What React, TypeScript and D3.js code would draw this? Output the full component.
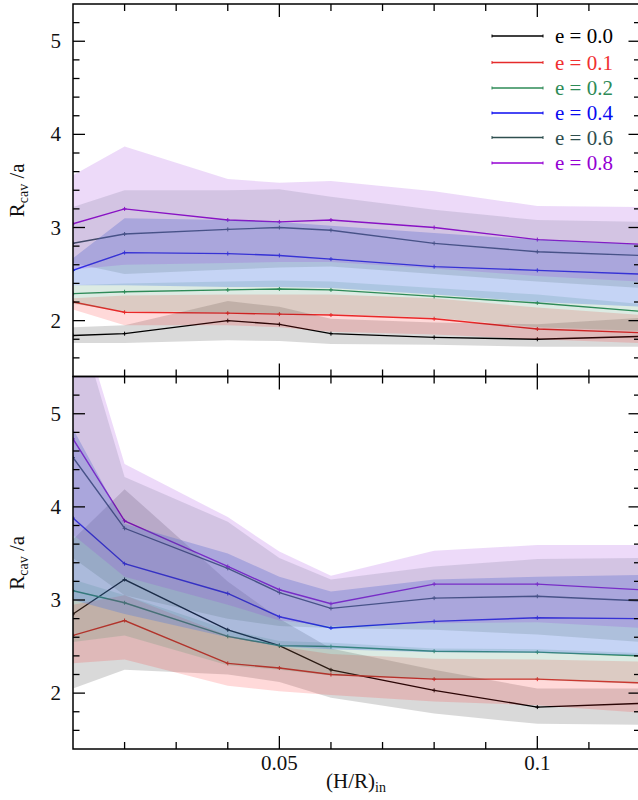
import React from "react";
import * as d3 from "d3";

// ---------- DATA ----------
const hr = [0.01, 0.02, 0.04, 0.05, 0.06, 0.08, 0.1, 0.12];
const eccLabels = ["e = 0.0", "e = 0.1", "e = 0.2", "e = 0.4", "e = 0.6", "e = 0.8"];
const lineColors = ["#000000", "#e52b2b", "#2e8b57", "#0a0af0", "#2f4f4f", "#9400d3"];
const textColors = ["#000000", "#f03030", "#2e8b57", "#0a0af0", "#2f4f4f", "#9400d3"];
const bandColors = ["#000000", "#ff2020", "#2e8b57", "#4a78e0", "#2f4f4f", "#9933dd"];
const bandOpacity = [0.15, 0.17, 0.17, 0.32, 0.15, 0.18];

// top panel
const topMean = [
  [1.84, 1.86, 2.0, 1.96, 1.86, 1.82, 1.8, 1.83],
  [2.2, 2.09, 2.08, 2.07, 2.06, 2.02, 1.91, 1.87],
  [2.29, 2.31, 2.33, 2.34, 2.33, 2.26, 2.19, 2.1],
  [2.54, 2.73, 2.72, 2.7, 2.66, 2.58, 2.54, 2.5],
  [2.83, 2.93, 2.98, 3.0, 2.97, 2.83, 2.74, 2.7],
  [3.04, 3.2, 3.08, 3.06, 3.08, 3.0, 2.87, 2.82],
];
const topLo = [
  [1.76, 1.76, 1.79, 1.78, 1.75, 1.74, 1.72, 1.72],
  [2.12, 1.95, 1.95, 1.93, 1.88, 1.85, 1.8, 1.76],
  [2.18, 2.1, 2.09, 2.08, 2.07, 2.03, 1.93, 1.89],
  [2.38, 2.38, 2.36, 2.36, 2.35, 2.28, 2.2, 2.15],
  [2.62, 2.5, 2.55, 2.57, 2.58, 2.5, 2.42, 2.35],
  [2.55, 2.6, 2.62, 2.63, 2.63, 2.56, 2.48, 2.42],
];
const topHi = [
  [1.93, 1.95, 2.21, 2.15, 2.02, 1.98, 1.96, 2.03],
  [2.24, 2.27, 2.28, 2.28, 2.28, 2.24, 2.14, 2.06],
  [2.38, 2.4, 2.42, 2.43, 2.42, 2.35, 2.28, 2.18],
  [2.67, 3.1, 3.08, 3.06, 3.02, 2.94, 2.87, 2.82],
  [3.22, 3.4, 3.4, 3.41, 3.33, 3.19, 3.08, 3.06],
  [3.56, 3.87, 3.52, 3.48, 3.5, 3.39, 3.23, 3.22],
];

// bottom panel
const botMean = [
  [2.85, 3.22, 2.68, 2.51, 2.25, 2.03, 1.85, 1.89],
  [2.62, 2.78, 2.32, 2.27, 2.2, 2.15, 2.15, 2.11],
  [3.1, 2.97, 2.61, 2.51, 2.5, 2.45, 2.44, 2.4],
  [3.88, 3.39, 3.07, 2.82, 2.7, 2.77, 2.81, 2.8],
  [4.53, 3.77, 3.34, 3.08, 2.91, 3.02, 3.04, 2.99],
  [4.73, 3.85, 3.36, 3.11, 2.96, 3.17, 3.17, 3.11],
];
const botLo = [
  [2.05, 2.25, 2.2, 2.12, 1.95, 1.78, 1.67, 1.66],
  [2.32, 2.36, 2.08, 2.02, 1.98, 1.91, 1.87, 1.79],
  [2.55, 2.62, 2.3, 2.25, 2.19, 2.15, 2.14, 2.1],
  [3.0, 2.85, 2.6, 2.5, 2.47, 2.44, 2.43, 2.4],
  [3.45, 3.05, 2.8, 2.72, 2.7, 2.68, 2.63, 2.55],
  [3.7, 3.25, 2.95, 2.78, 2.72, 2.75, 2.76, 2.7],
];
const botHi = [
  [3.65, 4.19, 3.2, 2.8, 2.48, 2.25, 2.05, 2.05],
  [2.95, 3.05, 2.62, 2.5, 2.42, 2.37, 2.36, 2.34],
  [3.22, 3.05, 2.68, 2.56, 2.54, 2.48, 2.47, 2.43],
  [4.84, 3.82, 3.5, 3.25, 3.09, 3.22, 3.25, 3.27],
  [6.2, 4.32, 3.84, 3.45, 3.22, 3.36, 3.44, 3.45],
  [6.3, 4.46, 3.89, 3.52, 3.26, 3.53, 3.59, 3.59],
];

const yTickLabels = [2, 3, 4, 5];
const xTickLabels = [0.05, 0.1];

// ---------- LAYOUT ----------
const W = 638;
const H = 800;
const X0 = 73;
const X1 = 640.5;
const FONT = "Liberation Serif";

const x = d3.scaleLinear().domain([0.01, 0.12]).range([X0, X1]);

function Panel({ id, y, mean, lo, hi, showXLabels }: any) {
  const [yb, yt] = y.range();
  const line = d3
    .line<number>()
    .x((_, i) => x(hr[i]))
    .y((d) => y(d));
  const area = (l: number[], h: number[]) =>
    d3
      .area<number>()
      .x((_, i) => x(hr[i]))
      .y0((_, i) => y(l[i]))
      .y1((_, i) => y(h[i]))(hr as any) as string;

  const yMinor = d3.range(14, 55, 2).map((v) => v / 10);
  const xMinor = d3.range(2, 12).map((v) => v / 100);
  return (
    <g>
      <defs>
        <clipPath id={id}>
          <rect x={X0} y={yt} width={X1 - X0} height={yb - yt} />
        </clipPath>
      </defs>
      <g clipPath={`url(#${id})`}>
        {mean.map((m: number[], k: number) => (
          <g key={"l" + k}>
            <path d={line(m) as string} fill="none" stroke={lineColors[k]} strokeWidth={1.4} />
            {m.map((v, i) => (
              <path
                key={i}
                d={`M${x(hr[i]) - 2},${y(v)}H${x(hr[i]) + 2}M${x(hr[i])},${y(v) - 2}V${y(v) + 2}`}
                stroke={lineColors[k]}
                strokeWidth={1}
              />
            ))}
          </g>
        ))}
        {mean.map((_: any, k: number) => (
          <path key={"b" + k} d={area(lo[k], hi[k])} fill={bandColors[k]} fillOpacity={bandOpacity[k]} stroke="none" />
        ))}
      </g>
      {yMinor.map((v) => {
        const major = Math.abs(v - Math.round(v)) < 1e-6;
        const len = major ? 12 : 6.5;
        const yy = y(v);
        if (yy < yt + 0.5 || yy > yb - 0.5) return null;
        return (
          <g key={"yt" + v}>
            <line x1={X0} x2={X0 + len} y1={yy} y2={yy} stroke="#000" strokeWidth={1.3} />
            <line x1={X1} x2={X1 - len} y1={yy} y2={yy} stroke="#000" strokeWidth={1.3} />
          </g>
        );
      })}
      {xMinor.map((v) => {
        const major = Math.abs(v - 0.05) < 1e-6 || Math.abs(v - 0.1) < 1e-6;
        const len = major ? 13 : 7;
        const xx = x(v);
        return (
          <g key={"xt" + v}>
            <line x1={xx} x2={xx} y1={yb} y2={yb - len} stroke="#000" strokeWidth={1.3} />
            <line x1={xx} x2={xx} y1={yt} y2={yt + len} stroke="#000" strokeWidth={1.3} />
          </g>
        );
      })}
      <rect x={X0} y={yt} width={X1 - X0} height={yb - yt} fill="none" stroke="#000" strokeWidth={1.5} />
      {yTickLabels.map((v) => (
        <text key={"yl" + v} x={61} y={y(v) + 7} textAnchor="end" fontSize={21} fontFamily={FONT} fill="#111">
          {v}
        </text>
      ))}
      {showXLabels &&
        xTickLabels.map((v) => (
          <text key={"xl" + v} x={x(v)} y={770} textAnchor="middle" fontSize={21} fontFamily={FONT} fill="#111">
            {String(v)}
          </text>
        ))}
      <text
        transform={`translate(24,${(yt + yb) / 2}) rotate(-90)`}
        textAnchor="middle"
        fontSize={21}
        fontFamily={FONT}
        fill="#111"
      >
        R<tspan fontSize={14} dy={4}>cav</tspan>
        <tspan dy={-4}> /a</tspan>
      </text>
    </g>
  );
}

export default function App() {
  const yTop = d3.scaleLinear().domain([1.4, 5.4]).range([376.5, 4]);
  const yBot = d3.scaleLinear().domain([1.4, 5.4]).range([749, 376.5]);
  const legendY = [36, 62.5, 88, 113, 137.5, 163];
  return (
    <svg
      width={W}
      height={H}
      style={{ position: "absolute", left: 0, top: 0, background: "#fff" }}
      xmlns="http://www.w3.org/2000/svg"
    >
      <rect x={0} y={0} width={W} height={H} fill="#fff" />
      <Panel id="clipTop" y={yTop} mean={topMean} lo={topLo} hi={topHi} showXLabels={false} />
      <Panel id="clipBot" y={yBot} mean={botMean} lo={botLo} hi={botHi} showXLabels={true} />
      {eccLabels.map((lab, k) => (
        <g key={lab}>
          <line x1={492} x2={543} y1={legendY[k]} y2={legendY[k]} stroke={lineColors[k]} strokeWidth={1.4} />
          <line x1={492} x2={492} y1={legendY[k] - 1.5} y2={legendY[k] + 1.5} stroke={lineColors[k]} strokeWidth={1} />
          <line x1={543} x2={543} y1={legendY[k] - 1.5} y2={legendY[k] + 1.5} stroke={lineColors[k]} strokeWidth={1} />
          <text x={555} y={legendY[k] + 7} fontSize={21} fontFamily={FONT} fill={textColors[k]}>
            {lab}
          </text>
        </g>
      ))}
      <text x={356} y={788} textAnchor="middle" fontSize={21} fontFamily={FONT} fill="#111">
        (H/R)<tspan fontSize={14} dy={4}>in</tspan>
      </text>
    </svg>
  );
}
